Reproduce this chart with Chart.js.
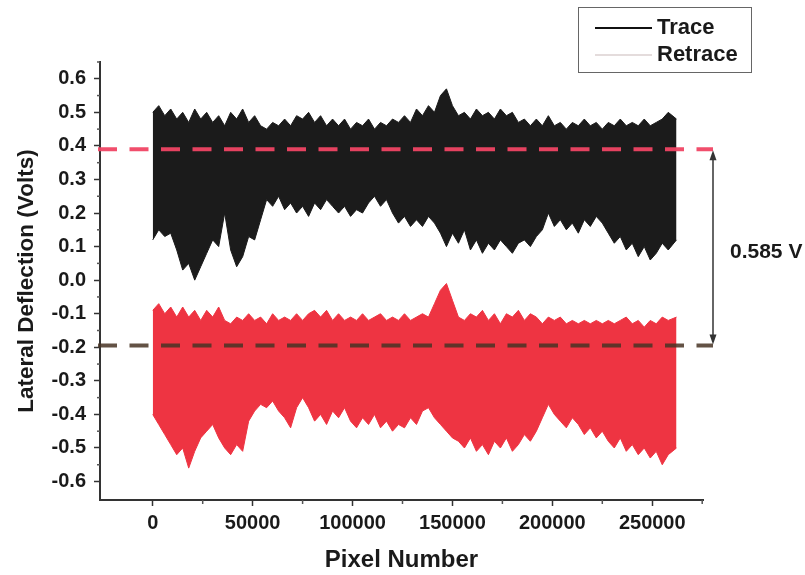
<!DOCTYPE html>
<html>
<head>
<meta charset="utf-8">
<script src="https://cdn.jsdelivr.net/npm/chart.js@4.4.1/dist/chart.umd.min.js"></script>
<style>
  body { margin: 0; background: #fff; }
  #wrap { position: relative; width: 805px; height: 575px; font-family: "Liberation Sans", Arial, sans-serif; font-weight: bold; color: #1a1a1a; }
  #legendBox { position: absolute; left: 578px; top: 7px; width: 172px; height: 64px; border: 1.5px solid #666; }
  .swatch { position: absolute; left: 595px; width: 57px; height: 1.5px; }
  .legText { position: absolute; left: 657px; font-size: 22px; line-height: 24px; }
  #note { position: absolute; left: 730px; top: 239px; font-size: 21px; line-height: 24px; }
</style>
</head>
<body>
<div id="wrap">
  <canvas id="deflectionChart" width="805" height="575"></canvas>
  <div id="legendBox"></div>
  <div class="swatch" style="top:27px;background:#111;"></div>
  <div class="legText" style="top:15px;">Trace</div>
  <div class="swatch" style="top:54px;background:#e4dcdc;"></div>
  <div class="legText" style="top:42px;">Retrace</div>
  <div id="note"></div>
</div>
<script>
// pixel index along the scan line
const pixels = [
  0, 3000, 6000, 9000, 12000, 15000, 18000, 21000, 24000, 27000,
  30000, 33000, 36000, 39000, 42000, 45000, 48000, 51000, 54000, 57000,
  60000, 63000, 66000, 69000, 72000, 75000, 78000, 81000, 84000, 87000,
  90000, 93000, 96000, 99000, 102000, 105000, 108000, 111000, 114000, 117000,
  120000, 123000, 126000, 129000, 132000, 135000, 138000, 141000, 144000, 147000,
  150000, 153000, 156000, 159000, 162000, 165000, 168000, 171000, 174000, 177000,
  180000, 183000, 186000, 189000, 192000, 195000, 198000, 201000, 204000, 207000,
  210000, 213000, 216000, 219000, 222000, 225000, 228000, 231000, 234000, 237000,
  240000, 243000, 246000, 249000, 252000, 255000, 258000, 262144
];

// upper / lower envelope of the trace signal (V)
const traceTop = [
  0.50, 0.52, 0.49, 0.51, 0.48, 0.50, 0.47, 0.51, 0.48, 0.50,
  0.47, 0.49, 0.46, 0.50, 0.48, 0.51, 0.47, 0.49, 0.46, 0.45,
  0.47, 0.46, 0.48, 0.46, 0.49, 0.48, 0.50, 0.47, 0.49, 0.46,
  0.48, 0.46, 0.48, 0.45, 0.47, 0.46, 0.48, 0.45, 0.47, 0.46,
  0.48, 0.47, 0.49, 0.47, 0.51, 0.49, 0.52, 0.50, 0.55, 0.57,
  0.52, 0.49, 0.50, 0.48, 0.51, 0.49, 0.50, 0.48, 0.51, 0.49,
  0.50, 0.47, 0.48, 0.46, 0.48, 0.46, 0.49, 0.46, 0.47, 0.45,
  0.47, 0.46, 0.48, 0.46, 0.47, 0.45, 0.47, 0.46, 0.48, 0.46,
  0.47, 0.46, 0.48, 0.46, 0.47, 0.48, 0.50, 0.48
];
const traceBottom = [
  0.12, 0.15, 0.13, 0.14, 0.09, 0.03, 0.05, 0.00, 0.04, 0.08,
  0.12, 0.10, 0.20, 0.09, 0.04, 0.07, 0.13, 0.12, 0.18, 0.24,
  0.22, 0.25, 0.21, 0.23, 0.20, 0.22, 0.19, 0.23, 0.21, 0.24,
  0.22, 0.20, 0.22, 0.19, 0.21, 0.20, 0.23, 0.25, 0.22, 0.24,
  0.20, 0.17, 0.19, 0.16, 0.18, 0.16, 0.19, 0.17, 0.14, 0.10,
  0.14, 0.11, 0.15, 0.09, 0.12, 0.08, 0.11, 0.09, 0.12, 0.10,
  0.08, 0.11, 0.12, 0.10, 0.13, 0.15, 0.20, 0.16, 0.18, 0.15,
  0.17, 0.14, 0.18, 0.16, 0.19, 0.17, 0.14, 0.11, 0.13, 0.09,
  0.11, 0.07, 0.10, 0.06, 0.08, 0.11, 0.09, 0.12
];

// upper / lower envelope of the retrace signal (V)
const retraceTop = [
  -0.09, -0.07, -0.10, -0.08, -0.11, -0.08, -0.11, -0.09, -0.12, -0.09,
  -0.11, -0.08, -0.12, -0.13, -0.11, -0.12, -0.10, -0.12, -0.11, -0.13,
  -0.10, -0.12, -0.11, -0.12, -0.10, -0.12, -0.10, -0.09, -0.11, -0.09,
  -0.12, -0.10, -0.12, -0.11, -0.12, -0.10, -0.12, -0.11, -0.10, -0.12,
  -0.11, -0.12, -0.10, -0.12, -0.11, -0.10, -0.11, -0.07, -0.03, -0.01,
  -0.06, -0.11, -0.12, -0.10, -0.11, -0.09, -0.12, -0.10, -0.13, -0.10,
  -0.11, -0.09, -0.12, -0.10, -0.11, -0.13, -0.11, -0.12, -0.11, -0.13,
  -0.12, -0.13, -0.12, -0.13, -0.12, -0.13, -0.12, -0.13, -0.12, -0.11,
  -0.13, -0.12, -0.14, -0.12, -0.13, -0.11, -0.12, -0.11
];
const retraceBottom = [
  -0.40, -0.43, -0.46, -0.49, -0.52, -0.50, -0.56, -0.51, -0.47, -0.45,
  -0.43, -0.47, -0.50, -0.52, -0.49, -0.51, -0.42, -0.39, -0.37, -0.38,
  -0.36, -0.39, -0.41, -0.44, -0.38, -0.35, -0.38, -0.42, -0.40, -0.43,
  -0.39, -0.41, -0.38, -0.42, -0.44, -0.41, -0.43, -0.40, -0.44, -0.42,
  -0.45, -0.43, -0.44, -0.41, -0.43, -0.39, -0.38, -0.41, -0.43, -0.45,
  -0.47, -0.48, -0.50, -0.47, -0.51, -0.49, -0.52, -0.48, -0.50, -0.47,
  -0.51, -0.49, -0.46, -0.48, -0.45, -0.41, -0.37, -0.40, -0.42, -0.44,
  -0.41, -0.43, -0.46, -0.44, -0.47, -0.45, -0.48, -0.50, -0.47, -0.51,
  -0.49, -0.52, -0.50, -0.53, -0.51, -0.55, -0.52, -0.50
];

// axis tick labels
const xTicks = [0, 50000, 100000, 150000, 200000, 250000];
const yTicks = [-0.6, -0.5, -0.4, -0.3, -0.2, -0.1, 0.0, 0.1, 0.2, 0.3, 0.4, 0.5, 0.6];

// mean levels marked by the dashed lines
const traceLevel = 0.39;
const retraceLevel = -0.195;

document.getElementById('note').textContent = (traceLevel - retraceLevel).toFixed(3) + ' V';

const pts = vals => pixels.map((p, i) => ({ x: p, y: vals[i] }));
const FONT = "'Liberation Sans', Arial, sans-serif";

// dashed mean lines, minor ticks and the double arrow
const overlay = {
  id: 'overlay',
  afterDatasetsDraw(chart) {
    const { ctx, chartArea: a, scales: { x, y } } = chart;
    const yT = y.getPixelForValue(traceLevel);
    const yR = y.getPixelForValue(retraceLevel);
    ctx.save();
    ctx.lineWidth = 4;
    ctx.setLineDash([19, 12.5]);
    ctx.strokeStyle = 'rgba(240,68,100,0.95)';
    ctx.beginPath(); ctx.moveTo(a.left - 2, yT); ctx.lineTo(a.right + 10, yT); ctx.stroke();
    ctx.strokeStyle = 'rgba(72,52,36,0.85)';
    ctx.beginPath(); ctx.moveTo(a.left - 2, yR); ctx.lineTo(a.right + 10, yR); ctx.stroke();
    ctx.setLineDash([]);

    // arrow
    const ax = a.right + 10;
    ctx.strokeStyle = '#333'; ctx.fillStyle = '#333'; ctx.lineWidth = 1.5;
    ctx.beginPath(); ctx.moveTo(ax, yT + 4); ctx.lineTo(ax, yR - 4); ctx.stroke();
    ctx.beginPath(); ctx.moveTo(ax, yT + 1); ctx.lineTo(ax - 3.5, yT + 11); ctx.lineTo(ax + 3.5, yT + 11); ctx.closePath(); ctx.fill();
    ctx.beginPath(); ctx.moveTo(ax, yR - 1); ctx.lineTo(ax - 3.5, yR - 11); ctx.lineTo(ax + 3.5, yR - 11); ctx.closePath(); ctx.fill();

    // minor ticks, halfway between the labelled ones
    ctx.strokeStyle = '#555'; ctx.lineWidth = 1.5;
    yTicks.forEach(v => {
      const py = y.getPixelForValue(v + 0.05);
      if (py < a.top - 1) return;
      ctx.beginPath(); ctx.moveTo(a.left - 3, py); ctx.lineTo(a.left, py); ctx.stroke();
    });
    xTicks.forEach(v => {
      const px = x.getPixelForValue(v + 25000);
      if (px > a.right) return;
      ctx.beginPath(); ctx.moveTo(px, a.bottom); ctx.lineTo(px, a.bottom + 4); ctx.stroke();
    });
    ctx.restore();
  }
};

new Chart(document.getElementById('deflectionChart'), {
  type: 'line',
  data: {
    datasets: [
      { label: 'Trace', data: pts(traceTop), borderColor: '#1b1b1b', backgroundColor: '#1b1b1b', fill: '+1' },
      { label: 'Trace low', data: pts(traceBottom), borderColor: '#1b1b1b', fill: false },
      { label: 'Retrace', data: pts(retraceTop), borderColor: 'rgb(238,52,66)', backgroundColor: 'rgb(238,52,66)', fill: '+1' },
      { label: 'Retrace low', data: pts(retraceBottom), borderColor: 'rgb(238,52,66)', fill: false }
    ]
  },
  options: {
    responsive: false,
    animation: false,
    elements: { point: { radius: 0 }, line: { borderWidth: 1, tension: 0 } },
    layout: { padding: { left: 0, top: 62, right: 102, bottom: 0 } },
    plugins: { legend: { display: false }, tooltip: { enabled: false } },
    scales: {
      x: {
        type: 'linear',
        min: -26400,
        max: 275400,
        afterFit: s => { s.height = 75; },
        afterBuildTicks: s => { s.ticks = xTicks.map(v => ({ value: v })); },
        border: { color: '#333', width: 2 },
        grid: { drawOnChartArea: false, tickLength: 6, tickColor: '#333', tickWidth: 1.5 },
        ticks: {
          padding: 5,
          color: '#1a1a1a',
          font: { family: FONT, size: 20, weight: 'bold' },
          maxRotation: 0,
          autoSkip: false,
          callback: v => String(v)
        },
        title: {
          display: true,
          text: 'Pixel Number',
          color: '#1a1a1a',
          font: { family: FONT, size: 24, weight: 'bold' },
          padding: { top: 0, bottom: 0 }
        }
      },
      y: {
        min: -0.655,
        max: 0.65,
        afterFit: s => { s.width = 100; },
        afterBuildTicks: s => { s.ticks = yTicks.map(v => ({ value: v })); },
        border: { color: '#333', width: 2 },
        grid: { drawOnChartArea: false, tickLength: 6, tickColor: '#333', tickWidth: 1.5 },
        ticks: {
          padding: 8,
          color: '#1a1a1a',
          autoSkip: false,
          font: { family: FONT, size: 20, weight: 'bold' },
          callback: v => (Math.round(v * 10) / 10 + 0).toFixed(1)
        },
        title: {
          display: true,
          text: 'Lateral Deflection (Volts)',
          color: '#1a1a1a',
          font: { family: FONT, size: 22.5, weight: 'bold' },
          padding: { top: 13, bottom: 0 }
        }
      }
    }
  },
  plugins: [overlay]
});
</script>
</body>
</html>
